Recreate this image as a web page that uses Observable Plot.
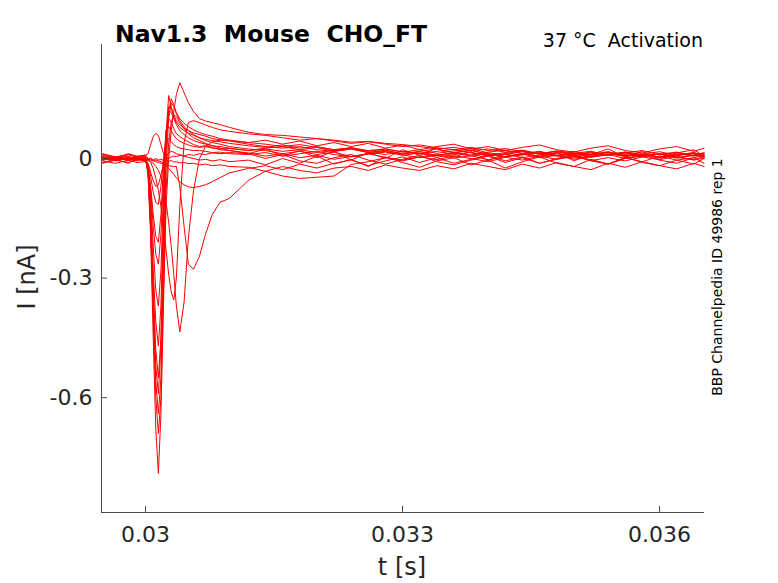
<!DOCTYPE html>
<html><head><meta charset="utf-8">
<script src="https://cdn.jsdelivr.net/npm/d3@7"></script>
<script src="https://cdn.jsdelivr.net/npm/@observablehq/plot@0.6"></script>
<style>body{margin:0;background:#fff}</style>
</head><body><div id="chart"></div>
<script>
// shared time grid (s)
const time = [0.0295, 0.02965, 0.0298, 0.0299, 0.03,
  0.03003, 0.03006, 0.03009, 0.03012, 0.03015, 0.03018, 0.03021, 0.03024, 0.03027, 0.0303, 0.03033, 0.03036, 0.0304, 0.03045, 0.0305, 0.03056, 0.03063, 0.0307, 0.03078, 0.03087, 0.03098,
  0.0312, 0.0314, 0.0316, 0.0318, 0.032, 0.0322, 0.0324, 0.0326, 0.0328, 0.033, 0.0332, 0.0334, 0.0336, 0.0338, 0.034, 0.0342, 0.0344, 0.0346, 0.0348, 0.035, 0.0352, 0.0354, 0.0356, 0.0358, 0.036, 0.0362, 0.0364, 0.03652];

// current traces (nA), one per voltage step
const f0 = [0.01,0.002,0.012,0.006,0.008,
  0.012,0.035,0.055,0.063,0.058,0.035,0.012,0.002,0.0,0.004,0.006,0.005,0.008,0.006,0.01,0.008,0.012,0.01,0.014,0.012,0.015,
  0.012,0.024,0.006,0.02,0.002,0.018,-0.004,0.015,0.0,0.022,0.008,0.026,0.004,0.017,-0.005,0.012,0.02,0.002,0.016,-0.006,0.01,0.024,0.004,0.018,-0.002,0.014,0.022,0.006];
const f1 = [-0.01,-0.002,-0.012,0.0,-0.008,
  -0.012,-0.035,-0.056,-0.07,-0.066,-0.042,-0.015,0.004,0.014,0.018,0.016,0.012,0.01,0.006,0.003,0.0,-0.004,-0.002,-0.006,-0.003,-0.008,
  -0.004,-0.016,0.0,-0.012,0.006,-0.014,-0.002,-0.02,0.004,-0.01,-0.022,-0.006,0.002,-0.016,-0.004,-0.024,-0.008,0.004,-0.012,-0.02,-0.002,-0.014,0.003,-0.01,-0.018,-0.004,0.002,-0.012];
const f2 = [0.003,-0.005,0.001,-0.003,0.0,
  -0.015,-0.045,-0.085,-0.11,-0.115,-0.07,0.0,0.045,0.05,0.042,0.035,0.03,0.026,0.024,0.022,0.02,0.02,0.018,0.015,0.016,0.012,
  0.01,0.015,0.006,0.012,0.018,0.01,0.004,0.011,0.016,0.009,0.002,0.008,0.014,0.006,0.012,0.004,0.009,0.015,0.007,0.001,0.006,0.012,0.005,0.01,0.003,0.009,0.014,0.007];
const f3 = [-0.004,0.004,-0.002,0.001,-0.005,
  -0.02,-0.07,-0.14,-0.195,-0.21,-0.14,-0.02,0.07,0.08,0.07,0.058,0.05,0.043,0.038,0.034,0.03,0.028,0.03,0.026,0.024,0.025,
  0.02,0.024,0.018,0.022,0.015,0.02,0.025,0.016,0.01,0.018,0.013,0.007,0.014,0.02,0.011,0.005,0.012,0.017,0.008,0.013,0.004,0.01,0.016,0.007,0.012,0.002,0.009,0.013];
const f4 = [0.012,0.004,0.01,0.002,0.006,
  -0.02,-0.08,-0.17,-0.24,-0.265,-0.19,-0.05,0.07,0.1,0.09,0.075,0.062,0.055,0.048,0.042,0.035,0.03,0.032,0.028,0.022,0.02,
  0.012,0.0,0.01,-0.006,-0.012,0.002,0.01,-0.004,-0.014,-0.002,0.008,-0.008,-0.016,-0.004,0.006,-0.01,0.002,-0.012,-0.002,0.008,-0.006,-0.014,0.0,0.01,-0.004,-0.012,0.002,0.008];
const f5 = [-0.002,0.005,0.0,-0.006,0.001,
  -0.025,-0.1,-0.22,-0.33,-0.37,-0.28,-0.09,0.06,0.12,0.115,0.1,0.085,0.07,0.06,0.052,0.045,0.04,0.036,0.032,0.03,0.026,
  0.02,0.026,0.03,0.022,0.028,0.018,0.024,0.015,0.021,0.012,0.018,0.024,0.014,0.009,0.016,0.021,0.012,0.006,0.013,0.018,0.009,0.015,0.006,0.011,0.017,0.008,0.013,0.004];
const f6 = [0.001,-0.004,0.003,0.0,-0.003,
  -0.03,-0.12,-0.28,-0.41,-0.47,-0.37,-0.13,0.05,0.13,0.125,0.105,0.09,0.078,0.07,0.064,0.058,0.052,0.048,0.045,0.042,0.038,
  0.032,0.028,0.034,0.026,0.03,0.022,0.027,0.018,0.024,0.016,0.022,0.013,0.019,0.025,0.014,0.01,0.017,0.011,0.018,0.007,0.014,0.009,0.016,0.01,0.004,0.012,0.007,0.015];
const f7 = [-0.012,-0.004,-0.01,-0.002,-0.006,
  -0.03,-0.14,-0.32,-0.48,-0.55,-0.45,-0.19,0.02,0.12,0.15,0.135,0.115,0.1,0.088,0.08,0.072,0.065,0.06,0.056,0.05,0.046,
  0.04,0.046,0.036,0.044,0.032,0.04,0.03,0.038,0.026,0.034,0.022,0.03,0.036,0.024,0.03,0.02,0.028,0.034,0.022,0.016,0.026,0.032,0.02,0.014,0.024,0.03,0.018,0.026];
const f8 = [0.003,-0.006,0.002,-0.002,0.001,
  -0.035,-0.16,-0.35,-0.52,-0.59,-0.47,-0.17,0.06,0.158,0.13,0.108,0.095,0.085,0.076,0.07,0.064,0.06,0.056,0.05,0.047,0.044,
  0.036,0.03,0.026,0.03,0.022,0.018,0.024,0.015,0.02,0.011,0.017,0.008,0.015,0.021,0.01,0.005,0.012,0.018,0.008,0.013,0.003,0.01,0.015,0.006,0.011,0.001,0.008,0.012];
const f9 = [-0.003,0.003,-0.005,0.002,-0.001,
  -0.035,-0.17,-0.38,-0.56,-0.64,-0.55,-0.26,-0.02,0.1,0.14,0.13,0.112,0.095,0.08,0.07,0.06,0.052,0.045,0.04,0.036,0.03,
  0.024,0.02,0.012,0.018,0.01,0.016,0.005,0.012,0.018,0.008,0.014,0.003,0.01,0.016,0.006,0.012,0.002,0.009,0.014,0.004,0.011,0.017,0.007,0.012,0.002,0.009,0.015,0.006];
const f10 = [0.005,-0.002,0.006,-0.004,0.002,
  -0.04,-0.18,-0.4,-0.6,-0.69,-0.6,-0.32,-0.08,0.04,0.09,0.11,0.105,0.09,0.075,0.062,0.052,0.045,0.038,0.032,0.026,0.02,
  0.014,0.006,0.012,0.002,0.008,-0.002,0.005,0.012,0.003,-0.004,0.004,0.01,0.001,0.007,-0.003,0.005,0.011,0.002,0.008,-0.002,0.004,0.01,0.0,0.006,0.012,0.003,-0.003,0.005];
const f11 = [-0.001,0.004,-0.003,0.005,0.001,
  -0.04,-0.2,-0.45,-0.68,-0.79,-0.64,-0.36,-0.12,0.0,0.07,0.12,0.16,0.19,0.165,0.14,0.118,0.1,0.094,0.09,0.085,0.078,
  0.066,0.06,0.058,0.054,0.05,0.046,0.041,0.043,0.038,0.035,0.03,0.024,0.028,0.02,0.024,0.016,0.021,0.012,0.018,0.01,0.016,0.008,0.014,0.02,0.009,0.015,0.006,0.012];
const s1 = [0.008,0.0,0.01,0.004,0.009,
  0.0,-0.01,-0.025,-0.05,-0.08,-0.12,-0.17,-0.23,-0.29,-0.335,-0.355,-0.3,-0.12,0.04,0.09,0.095,0.09,0.084,0.078,0.072,0.068,
  0.062,0.058,0.052,0.046,0.05,0.044,0.038,0.042,0.036,0.03,0.034,0.027,0.022,0.028,0.02,0.025,0.017,0.012,0.019,0.014,0.008,0.016,0.01,0.004,0.012,0.007,0.014,0.009];
const s2 = [-0.004,0.001,-0.002,0.003,-0.004,
  -0.005,-0.008,-0.012,-0.02,-0.03,-0.045,-0.07,-0.11,-0.16,-0.22,-0.29,-0.37,-0.435,-0.36,-0.2,-0.08,0.0,0.03,0.042,0.046,0.045,
  0.04,0.036,0.03,0.035,0.028,0.022,0.027,0.02,0.024,0.017,0.012,0.018,0.023,0.014,0.008,0.015,0.02,0.011,0.006,0.013,0.018,0.009,0.014,0.005,0.011,0.016,0.008,0.003];
const s3 = [0.004,0.0,0.005,-0.003,0.002,
  0.0,-0.004,-0.006,-0.008,-0.01,-0.012,-0.014,-0.016,-0.018,-0.019,-0.02,-0.02,-0.07,-0.17,-0.265,-0.278,-0.245,-0.19,-0.14,-0.11,-0.1,
  -0.055,-0.032,-0.044,-0.05,-0.047,-0.044,-0.015,-0.008,0.002,-0.006,0.004,-0.003,0.007,0.0,-0.008,0.003,-0.004,0.006,-0.002,0.005,-0.005,0.002,-0.006,0.004,-0.003,0.006,-0.004,0.001];
const s4 = [-0.002,0.004,-0.004,0.001,-0.002,
  -0.003,-0.002,-0.005,-0.004,-0.006,-0.008,-0.012,-0.018,-0.025,-0.032,-0.04,-0.048,-0.058,-0.066,-0.071,-0.073,-0.07,-0.066,-0.058,-0.048,-0.036,
  -0.025,-0.018,-0.028,-0.014,-0.024,-0.012,-0.004,-0.018,-0.006,0.004,-0.01,0.002,-0.012,-0.002,0.008,-0.006,0.004,-0.012,0.0,0.01,-0.004,-0.014,0.002,-0.008,0.006,-0.004,-0.014,0.0];
const s5 = [-0.006,-0.012,-0.004,-0.01,-0.008,
  -0.002,0.001,-0.003,0.0,-0.004,-0.002,-0.005,-0.003,-0.007,-0.005,-0.009,-0.008,-0.011,-0.01,-0.013,-0.012,-0.016,-0.014,-0.018,-0.016,-0.02,
  -0.022,-0.032,-0.02,-0.03,-0.036,-0.024,-0.02,-0.03,-0.016,-0.024,-0.03,-0.018,-0.026,-0.012,-0.02,-0.028,-0.014,-0.024,-0.01,-0.02,-0.028,-0.012,-0.022,-0.008,-0.018,-0.026,-0.012,-0.02];

const traces = [s5, s4, s3, s2, s1, f0, f1, f2, f3, f4, f5, f6, f7, f8, f9, f10, f11];
const xTicks = [0.03, 0.033, 0.036];
const yTicks = [-0.6, -0.3, 0];
const xDomain = [0.029486, 0.036525];
const yDomain = [-0.888, 0.286];

const rows = traces.flatMap((vals, k) =>
  vals.filter((v, i) => i < time.length).map((v, i) => ({t: time[i], I: v, k})));

const plot = Plot.plot({
  width: 778, height: 583,
  marginLeft: 101, marginRight: 74, marginTop: 44, marginBottom: 71,
  style: {fontFamily: "'DejaVu Sans', sans-serif", background: "#fff", color: "#262626", overflow: "visible"},
  x: {domain: xDomain},
  y: {domain: yDomain},
  marks: [
    Plot.lineY(rows, {x: "t", y: "I", z: "k", stroke: "#ff0000", strokeWidth: 1}),
    Plot.ruleX([xDomain[0]], {stroke: "#4a4a4a", strokeWidth: 1}),
    Plot.ruleY([yDomain[0]], {stroke: "#4a4a4a", strokeWidth: 1}),
    Plot.tickX(xTicks, {x: d => d, insetTop: 462, stroke: "#4a4a4a"}),
    Plot.tickY(yTicks, {y: d => d, insetRight: 597, stroke: "#4a4a4a"}),
    Plot.axisX({ticks: xTicks, tickSize: 0, tickPadding: 14, fontSize: 22, tickFormat: d => String(d), label: null, fill: "#262626"}),
    Plot.axisY({ticks: yTicks, tickSize: 0, tickPadding: 9, fontSize: 22, tickFormat: d => String(d), label: null, fill: "#262626"})
  ]
});

const svg = d3.select(plot);
svg.append("text").attr("x", 115).attr("y", 42).attr("text-anchor", "start")
  .attr("font-size", 23.5).attr("font-weight", "bold").attr("fill", "#000")
  .style("white-space", "pre")
  .text("Nav1.3  Mouse  CHO_FT");
svg.append("text").attr("x", 703).attr("y", 47).attr("text-anchor", "end")
  .attr("font-size", 19).attr("fill", "#000")
  .style("white-space", "pre")
  .text("37 °C  Activation");
svg.append("text").attr("transform", "translate(722,277) rotate(-90)")
  .attr("text-anchor", "middle").attr("font-size", 14).attr("fill", "#000")
  .text("BBP Channelpedia ID 49986 rep 1");
svg.append("text").attr("transform", "translate(35,277) rotate(-90)")
  .attr("text-anchor", "middle").attr("font-size", 24).attr("fill", "#262626")
  .text("I [nA]");
svg.append("text").attr("x", 402).attr("y", 575).attr("text-anchor", "middle")
  .attr("font-size", 24).attr("fill", "#262626")
  .text("t [s]");

document.getElementById("chart").appendChild(plot);
</script>
</body></html>
